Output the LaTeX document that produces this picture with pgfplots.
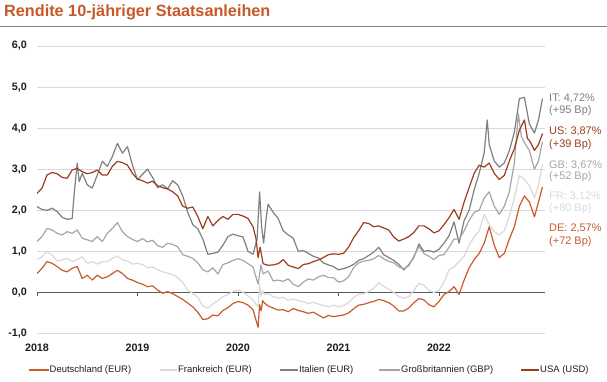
\documentclass[border=0pt]{standalone}
\usepackage{fontspec}
\setmainfont{Liberation Sans}
\usepackage{pgfplots}
\pgfplotsset{compat=1.18}
\definecolor{cDE}{RGB}{200,90,45}
\definecolor{cFR}{RGB}{217,217,217}
\definecolor{cIT}{RGB}{127,127,127}
\definecolor{cGB}{RGB}{166,166,166}
\definecolor{cUS}{RGB}{158,60,30}
\definecolor{cTitle}{RGB}{200,88,40}
\definecolor{cGrid}{RGB}{217,217,217}
\definecolor{cZero}{RGB}{89,89,89}
\definecolor{cTxt}{RGB}{30,30,30}
\begin{document}
\begin{tikzpicture}
\path[use as bounding box] (0,0) rectangle (607bp,-382bp);
\node[anchor=west, inner sep=0pt, text=cTitle, font=\bfseries\fontsize{16.3}{19}\selectfont] at (4bp,-12bp) {Rendite 10-jähriger Staatsanleihen};
\draw[color=gray, line width=1bp] (0,-26bp) -- (607bp,-26bp);
\begin{axis}[
  at={(37bp,-333.5bp)}, anchor=south west,
  scale only axis, width=508bp, height=287.5bp,
  xmin=0, xmax=5.055, ymin=-1, ymax=6,
  axis line style={draw=none},
  major tick length=0pt,
  xtick={0,1,2,3,4}, xticklabels={2018,2019,2020,2021,2022},
  ytick={-1,0,1,2,3,4,5,6},
  ymajorgrids, grid style={cGrid, line width=1bp},
  extra y ticks={0}, extra y tick labels={},
  extra y tick style={grid style={cZero, line width=1.2bp}},
  /pgf/number format/.cd, fixed, fixed zerofill, precision=1, use comma, assume math mode=true,
  /pgfplots/.cd,
  yticklabel style={anchor=east, inner sep=0pt, xshift=-10bp, text=cTxt, font=\bfseries\fontsize{10.8}{12}\selectfont},
  xticklabel style={anchor=north, inner sep=0pt, yshift=-10bp, text=cTxt, font=\bfseries\fontsize{10.8}{12}\selectfont},
  every axis plot/.append style={line width=1.2bp, mark=none, line join=round},
]
% Deutschland
\addplot[cDE] coordinates {(0,0.46)(0.05,0.59)(0.1,0.75)(0.15,0.71)(0.2,0.63)(0.25,0.54)(0.3,0.5)(0.35,0.59)(0.4,0.63)(0.45,0.34)(0.5,0.42)(0.55,0.3)(0.6,0.42)(0.65,0.34)(0.7,0.38)(0.75,0.46)(0.8,0.54)(0.85,0.46)(0.9,0.34)(0.95,0.3)
(1.0,0.24)(1.05,0.2)(1.1,0.14)(1.15,0.16)(1.2,0.06)(1.25,-0.02)(1.3,0.02)(1.35,-0.03)(1.4,-0.1)(1.45,-0.17)(1.5,-0.26)(1.55,-0.35)(1.6,-0.48)(1.65,-0.66)(1.7,-0.64)(1.75,-0.55)(1.8,-0.57)(1.85,-0.44)(1.9,-0.37)(1.95,-0.27)
(2.0,-0.22)(2.05,-0.25)(2.1,-0.31)(2.15,-0.42)(2.2,-0.85)(2.215,-0.3)(2.23,-0.45)(2.245,-0.2)(2.26,-0.25)(2.3,-0.33)(2.35,-0.38)(2.4,-0.43)(2.45,-0.42)(2.5,-0.47)(2.55,-0.39)(2.6,-0.44)(2.65,-0.47)(2.7,-0.51)(2.75,-0.48)(2.8,-0.55)(2.85,-0.62)(2.9,-0.56)(2.95,-0.59)
(3.0,-0.57)(3.05,-0.55)(3.1,-0.5)(3.15,-0.4)(3.2,-0.31)(3.25,-0.29)(3.3,-0.25)(3.35,-0.22)(3.4,-0.17)(3.45,-0.2)(3.5,-0.25)(3.55,-0.33)(3.6,-0.45)(3.65,-0.45)(3.7,-0.38)(3.75,-0.25)(3.8,-0.15)(3.85,-0.18)(3.9,-0.3)(3.95,-0.35)
(4.0,-0.22)(4.05,-0.05)(4.1,0.02)(4.15,0.14)(4.2,-0.05)(4.25,0.3)(4.3,0.6)(4.35,0.8)(4.4,0.95)(4.45,1.2)(4.5,1.6)(4.55,1.15)(4.6,0.85)(4.65,0.95)(4.7,1.3)(4.75,1.6)(4.8,2.1)(4.85,2.35)(4.9,2.2)(4.95,1.84)(4.99,2.2)(5.03,2.57)};
% Frankreich
\addplot[cFR] coordinates {(0,0.8)(0.05,0.87)(0.1,0.99)(0.15,0.91)(0.2,0.77)(0.25,0.79)(0.3,0.83)(0.35,0.75)(0.4,0.8)(0.45,0.87)(0.5,0.71)(0.55,0.75)(0.6,0.69)(0.65,0.75)(0.7,0.75)(0.75,0.83)(0.8,0.89)(0.85,0.79)(0.9,0.77)(0.95,0.69)
(1.0,0.71)(1.05,0.68)(1.1,0.6)(1.15,0.62)(1.2,0.55)(1.25,0.5)(1.3,0.47)(1.35,0.43)(1.4,0.36)(1.45,0.25)(1.5,0.05)(1.55,-0.02)(1.6,-0.12)(1.65,-0.33)(1.7,-0.38)(1.75,-0.28)(1.8,-0.2)(1.85,-0.1)(1.9,-0.05)(1.95,0.02)
(2.0,0.06)(2.05,0.0)(2.1,-0.08)(2.15,-0.2)(2.2,-0.35)(2.215,0.2)(2.23,-0.1)(2.245,0.05)(2.26,-0.05)(2.3,-0.03)(2.35,-0.1)(2.4,-0.14)(2.45,-0.12)(2.5,-0.19)(2.55,-0.16)(2.6,-0.2)(2.65,-0.23)(2.7,-0.27)(2.75,-0.24)(2.8,-0.28)(2.85,-0.32)(2.9,-0.35)(2.95,-0.31)
(3.0,-0.35)(3.05,-0.32)(3.1,-0.25)(3.15,-0.12)(3.2,-0.05)(3.25,-0.03)(3.3,0.02)(3.35,0.1)(3.4,0.24)(3.45,0.15)(3.5,0.08)(3.55,0.0)(3.6,-0.1)(3.65,-0.14)(3.7,-0.1)(3.75,0.05)(3.8,0.22)(3.85,0.18)(3.9,0.05)(3.95,0.0)
(4.0,0.05)(4.05,0.25)(4.1,0.55)(4.15,0.62)(4.2,0.75)(4.25,0.88)(4.3,1.15)(4.35,1.35)(4.4,1.5)(4.45,1.9)(4.5,1.65)(4.55,1.48)(4.6,1.4)(4.65,1.5)(4.7,1.85)(4.75,2.3)(4.8,2.85)(4.85,2.75)(4.9,2.6)(4.95,2.3)(4.99,2.6)(5.03,3.12)};
% Italien
\addplot[cIT] coordinates {(0,2.09)(0.05,2.02)(0.1,2.0)(0.15,2.05)(0.2,1.97)(0.25,1.83)(0.3,1.78)(0.35,1.8)(0.37,2.4)(0.4,3.15)(0.42,2.7)(0.45,2.9)(0.5,2.62)(0.55,2.54)(0.6,2.86)(0.65,3.19)(0.7,3.07)(0.75,3.31)(0.8,3.63)(0.85,3.39)(0.9,3.55)(0.95,3.1)
(1.0,2.74)(1.05,2.88)(1.1,3.0)(1.15,2.8)(1.2,2.55)(1.25,2.62)(1.3,2.52)(1.35,2.72)(1.4,2.62)(1.45,2.35)(1.5,1.95)(1.55,1.65)(1.6,1.55)(1.65,1.3)(1.7,0.93)(1.75,0.95)(1.8,0.98)(1.85,1.15)(1.9,1.36)(1.95,1.42)
(2.0,1.38)(2.05,1.35)(2.1,1.0)(2.15,0.93)(2.19,1.3)(2.215,2.45)(2.235,1.6)(2.255,1.2)(2.28,1.8)(2.3,2.15)(2.35,1.95)(2.4,1.8)(2.45,1.5)(2.5,1.4)(2.55,1.32)(2.6,1.0)(2.65,1.02)(2.7,0.95)(2.75,0.88)(2.8,0.84)(2.85,0.72)(2.9,0.67)(2.95,0.63)
(3.0,0.55)(3.05,0.58)(3.1,0.62)(3.15,0.68)(3.2,0.78)(3.25,0.82)(3.3,0.9)(3.35,0.98)(3.4,1.1)(3.45,0.92)(3.5,0.85)(3.55,0.78)(3.6,0.68)(3.65,0.55)(3.7,0.68)(3.75,0.85)(3.8,1.18)(3.85,1.0)(3.9,1.02)(3.95,0.98)
(4.0,1.05)(4.05,1.2)(4.1,1.38)(4.15,1.72)(4.2,1.2)(4.25,1.75)(4.3,2.0)(4.35,2.5)(4.4,2.9)(4.45,3.4)(4.48,4.2)(4.5,3.6)(4.55,3.2)(4.6,3.05)(4.65,3.15)(4.7,3.45)(4.75,3.9)(4.8,4.72)(4.85,4.75)(4.9,4.1)(4.95,3.88)(4.99,4.2)(5.03,4.72)};
% Grossbritannien
\addplot[cGB] coordinates {(0,1.24)(0.05,1.36)(0.1,1.56)(0.15,1.52)(0.2,1.44)(0.25,1.4)(0.3,1.48)(0.35,1.44)(0.4,1.52)(0.45,1.32)(0.5,1.28)(0.55,1.24)(0.6,1.36)(0.65,1.24)(0.7,1.44)(0.75,1.56)(0.8,1.7)(0.85,1.48)(0.9,1.36)(0.95,1.29)
(1.0,1.24)(1.05,1.31)(1.1,1.23)(1.15,1.27)(1.2,1.14)(1.25,1.1)(1.3,1.2)(1.35,1.17)(1.4,1.11)(1.45,0.92)(1.5,0.88)(1.55,0.83)(1.6,0.72)(1.65,0.55)(1.7,0.5)(1.75,0.6)(1.8,0.45)(1.85,0.68)(1.9,0.72)(1.95,0.78)
(2.0,0.82)(2.05,0.78)(2.1,0.7)(2.15,0.62)(2.2,0.2)(2.228,0.67)(2.25,0.45)(2.3,0.52)(2.35,0.28)(2.4,0.3)(2.45,0.27)(2.5,0.33)(2.55,0.2)(2.6,0.14)(2.65,0.25)(2.7,0.33)(2.75,0.3)(2.8,0.38)(2.85,0.42)(2.9,0.36)(2.95,0.36)
(3.0,0.25)(3.05,0.28)(3.1,0.38)(3.15,0.6)(3.2,0.72)(3.25,0.76)(3.3,0.78)(3.35,0.82)(3.4,0.9)(3.45,0.82)(3.5,0.76)(3.55,0.72)(3.6,0.62)(3.65,0.58)(3.7,0.65)(3.75,0.88)(3.8,1.12)(3.85,0.95)(3.9,0.88)(3.95,0.8)
(4.0,0.9)(4.05,0.92)(4.1,1.1)(4.15,1.3)(4.2,1.3)(4.25,1.5)(4.3,1.75)(4.35,1.95)(4.4,2.0)(4.45,2.3)(4.5,2.45)(4.55,2.1)(4.6,1.9)(4.65,2.1)(4.7,2.45)(4.75,3.15)(4.79,4.35)(4.82,3.8)(4.85,3.65)(4.9,3.45)(4.95,3.0)(4.99,3.2)(5.03,3.67)};
% USA
\addplot[cUS] coordinates {(0,2.41)(0.05,2.54)(0.1,2.86)(0.15,2.92)(0.2,2.89)(0.25,2.8)(0.3,2.78)(0.35,2.98)(0.4,3.02)(0.45,2.94)(0.5,2.89)(0.55,2.92)(0.6,2.98)(0.65,2.86)(0.7,2.86)(0.75,3.07)(0.8,3.19)(0.85,3.16)(0.9,3.1)(0.95,2.9)
(1.0,2.76)(1.05,2.72)(1.1,2.66)(1.15,2.71)(1.2,2.6)(1.25,2.55)(1.3,2.52)(1.35,2.45)(1.4,2.35)(1.45,2.1)(1.5,2.05)(1.55,2.08)(1.6,1.85)(1.65,1.55)(1.7,1.85)(1.75,1.62)(1.8,1.75)(1.85,1.85)(1.9,1.78)(1.95,1.9)
(2.0,1.9)(2.05,1.86)(2.1,1.8)(2.15,1.6)(2.18,1.3)(2.2,0.85)(2.22,1.1)(2.25,0.7)(2.3,0.66)(2.35,0.67)(2.4,0.7)(2.45,0.8)(2.5,0.66)(2.55,0.62)(2.6,0.58)(2.65,0.68)(2.7,0.7)(2.75,0.75)(2.8,0.79)(2.85,0.85)(2.9,0.92)(2.95,0.94)
(3.0,0.93)(3.05,0.95)(3.1,1.1)(3.15,1.33)(3.2,1.5)(3.25,1.7)(3.3,1.68)(3.35,1.6)(3.4,1.62)(3.45,1.57)(3.5,1.52)(3.55,1.35)(3.6,1.25)(3.65,1.3)(3.7,1.36)(3.75,1.46)(3.8,1.62)(3.85,1.62)(3.9,1.55)(3.95,1.45)
(4.0,1.5)(4.05,1.65)(4.1,1.82)(4.15,2.02)(4.2,1.78)(4.25,2.2)(4.3,2.55)(4.35,2.9)(4.4,3.1)(4.45,3.05)(4.5,3.15)(4.55,2.9)(4.6,2.75)(4.65,2.85)(4.7,3.2)(4.75,3.5)(4.8,3.95)(4.85,4.2)(4.88,3.75)(4.9,3.7)(4.95,3.46)(4.99,3.6)(5.03,3.87)};
\end{axis}
% year ticks on zero line
\foreach \x in {37,137.5,238,338.5,439} \draw[cZero, line width=1bp] (\x bp,-292.4bp) -- ++(0,-4bp);
% end labels
\begin{scope}[every node/.style={anchor=west, inner sep=0pt, font=\fontsize{11}{13}\selectfont}]
\node[text=cIT] at (549bp,-98bp) {IT: 4,72\%};
\node[text=cIT] at (549bp,-111bp) {(+95 Bp)};
\node[text=cUS] at (549bp,-131.5bp) {US: 3,87\%};
\node[text=cUS] at (549bp,-145bp) {(+39 Bp)};
\node[text=cGB] at (549bp,-165bp) {GB: 3,67\%};
\node[text=cGB] at (549bp,-177bp) {(+52 Bp)};
\node[text=cFR] at (549bp,-196.5bp) {FR: 3,12\%};
\node[text=cFR] at (549bp,-208.5bp) {(+80 Bp)};
\node[text=cDE] at (549bp,-228.5bp) {DE: 2,57\%};
\node[text=cDE] at (549bp,-241.5bp) {(+72 Bp)};
\end{scope}
% legend
\begin{scope}[every node/.style={anchor=west, inner sep=0pt, text=cTxt, font=\fontsize{9.5}{11}\selectfont}]
\draw[cDE, line width=2bp] (29bp,-370bp) -- (49bp,-370bp); \node at (49.5bp,-370bp) {Deutschland (EUR)};
\draw[cFR, line width=2bp] (160bp,-370bp) -- (177bp,-370bp); \node at (178bp,-370bp) {Frankreich (EUR)};
\draw[cIT, line width=2bp] (280bp,-370bp) -- (298bp,-370bp); \node at (299bp,-370bp) {Italien (EUR)};
\draw[cGB, line width=2bp] (379bp,-370bp) -- (400bp,-370bp); \node at (401bp,-370bp) {Großbritannien (GBP)};
\draw[cUS, line width=2bp] (521bp,-370bp) -- (539bp,-370bp); \node at (540bp,-370bp) {USA (USD)};
\end{scope}
\end{tikzpicture}
\end{document}
